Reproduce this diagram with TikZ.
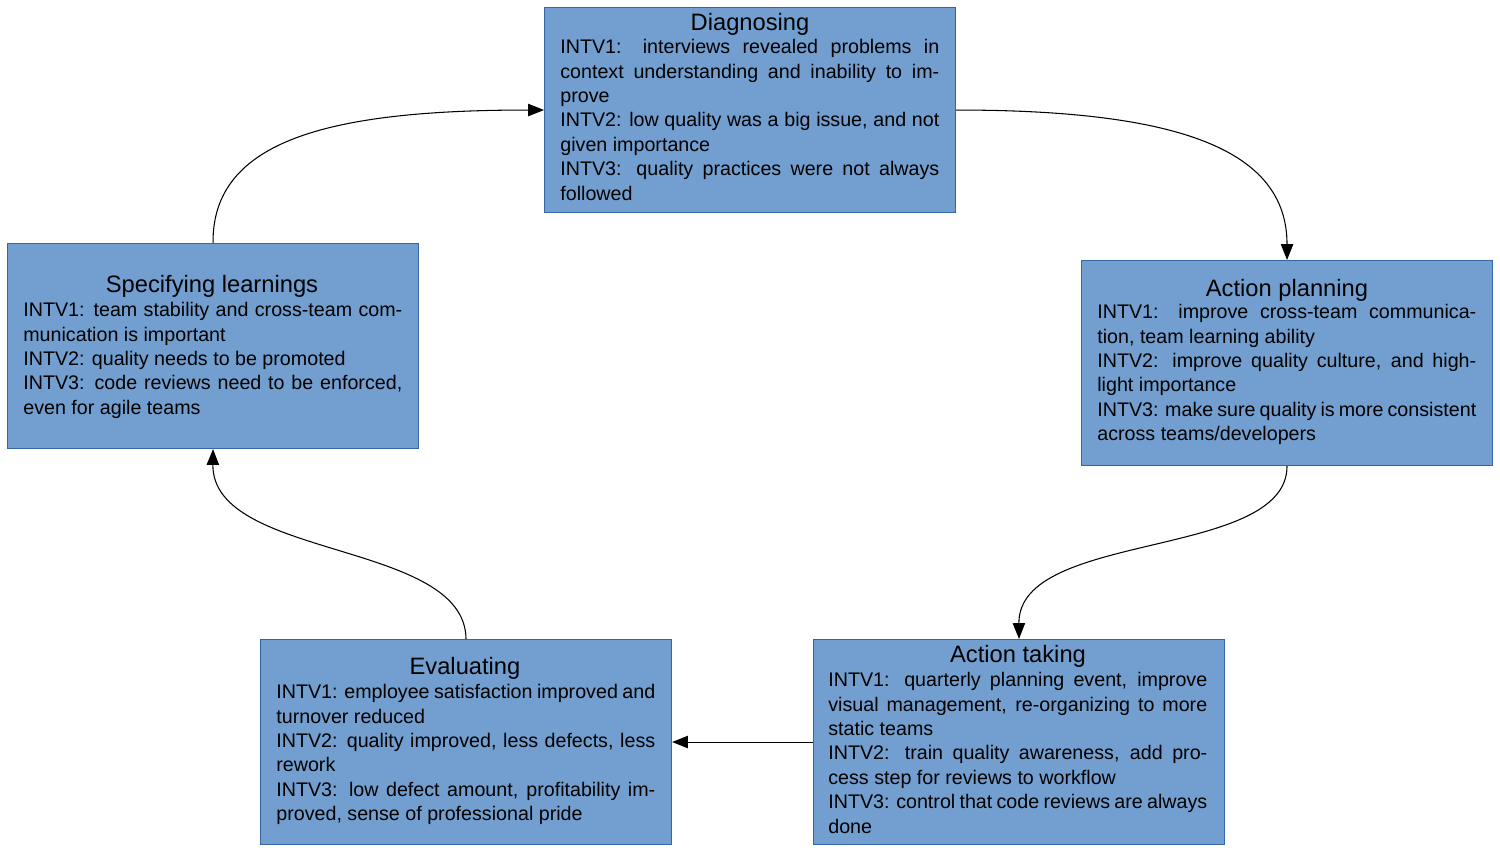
\documentclass[tikz,border=0pt]{standalone}
\usepackage{fontspec}
\setmainfont{Liberation Sans}
\usetikzlibrary{arrows.meta}
\definecolor{boxfill}{HTML}{729FCF}
\definecolor{boxline}{HTML}{3465A4}
\begin{document}
\begin{tikzpicture}[x=0.02cm,y=-0.02cm,
  box/.style={draw=boxline,fill=boxfill,line width=0.6pt,anchor=north west,inner sep=0,minimum width=411*0.02cm,minimum height=205*0.02cm},
  ttl/.style={inner sep=0,font=\fontsize{13.5}{15}\selectfont},
  body/.style={inner sep=0,anchor=north west,text width=7.58cm,align=justify,font=\fontsize{11.2}{13.9}\selectfont},
  arr/.style={-{Triangle[length=9pt,width=7pt]},line width=0.6pt}]
\useasboundingbox (0,0) rectangle (1500,852);
% boxes
\node[box] (d) at (544,7) {};
\node[box] (p) at (1081,260) {};
\node[box] (t) at (813,639) {};
\node[box] (e) at (260,639) {};
\node[box] (s) at (7,243) {};
% titles
\node[ttl] (dt) at (750,24) {Diagnosing};
\node[ttl] (pt) at (1287,290) {Action planning};
\node[ttl] (tt) at (1018,656) {Action taking};
\node[ttl] (et) at (465,668) {Evaluating};
\node[ttl] (st) at (212,286) {Specifying learnings};
% bodies
\node[body] (db) at (560,39) {INTV1: interviews revealed problems in context understanding and inability to improve\\INTV2: low quality was a big issue, and not given importance\\INTV3: quality practices were not always followed};
\node[body] (pb) at (1097,304) {INTV1: improve cross-team communication, team learning ability\\INTV2: improve quality culture, and highlight importance\\INTV3: make sure quality is more consistent across teams/developers};
\node[body] (tb) at (828,672) {INTV1: quarterly planning event, improve visual management, re-organizing to more static teams\\INTV2: train quality awareness, add process step for reviews to workflow\\INTV3: control that code reviews are always done};
\node[body] (eb) at (276,684) {INTV1: employee satisfaction improved and turnover reduced\\INTV2: quality improved, less defects, less rework\\INTV3: low defect amount, profitability improved, sense of professional pride};
\node[body] (sb) at (23,302) {INTV1: team stability and cross-team communication is important\\INTV2: quality needs to be promoted\\INTV3: code reviews need to be enforced, even for agile teams};
% arrows
\draw[arr] (d.east) .. controls (1180,110) and (1287,150) .. (p.north);
\draw[arr] (p.south) .. controls (1287,560) and (1018,530) .. (t.north);
\draw[arr] (t.west) -- (e.east);
\draw[arr] (e.north) .. controls (465,540) and (212,560) .. (s.south);
\draw[arr] (s.north) .. controls (212,140) and (330,110) .. (d.west);
\end{tikzpicture}
\end{document}
